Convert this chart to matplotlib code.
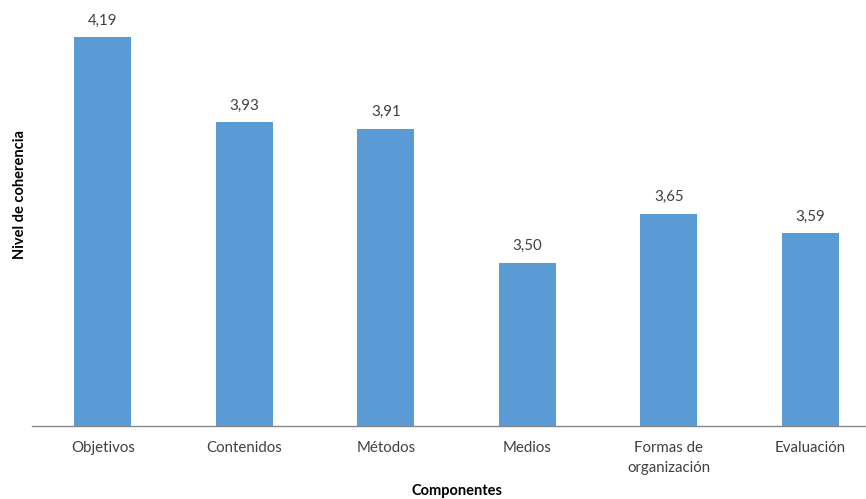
import matplotlib
matplotlib.use("Agg")
import matplotlib.pyplot as plt

categories = ["Objetivos", "Contenidos", "Métodos", "Medios", "Formas de\norganización", "Evaluación"]
values = [4.19, 3.93, 3.91, 3.50, 3.65, 3.59]
value_labels = ["4,19", "3,93", "3,91", "3,50", "3,65", "3,59"]

plt.rcParams['font.family'] = ['Lato', 'DejaVu Sans']

W, H = 866, 499
fig = plt.figure(figsize=(W / 100, H / 100), dpi=100)
left_px, right_px, top_px, bottom_px = 32, 881, 1.5, 426
ax = fig.add_axes([left_px / W, (H - bottom_px) / H, (right_px - left_px) / W, (bottom_px - top_px) / H])

x = list(range(len(categories)))
ax.bar(x, values, width=0.4, color="#5B9BD5", zorder=2)
ax.set_xlim(-0.5, len(categories) - 0.5)
ax.set_ylim(3.0, 4.3)

for xi, v, lab in zip(x, values, value_labels):
    ax.annotate(lab, (xi, v), xytext=(0, 7), textcoords="offset points",
                ha="center", va="bottom", fontsize=10.8, color="#404040")

for s in ["top", "right", "left"]:
    ax.spines[s].set_visible(False)
ax.spines["bottom"].set_color("#868686")
ax.spines["bottom"].set_linewidth(1)
ax.set_yticks([])
ax.set_xticks(x)
ax.set_xticklabels(categories, fontsize=10.8, color="#404040", linespacing=1.55)
ax.tick_params(axis="x", length=0, pad=11)

fig.text(20 / W, 1 - 195 / H, "Nivel de coherencia", rotation=90, ha="center", va="center",
         fontsize=10.5, fontweight="bold", color="#000000")
fig.text(457 / W, 1 - 491 / H, "Componentes", ha="center", va="center",
         fontsize=10.5, fontweight="bold", color="#000000")

fig.savefig("out.png", dpi=100)
